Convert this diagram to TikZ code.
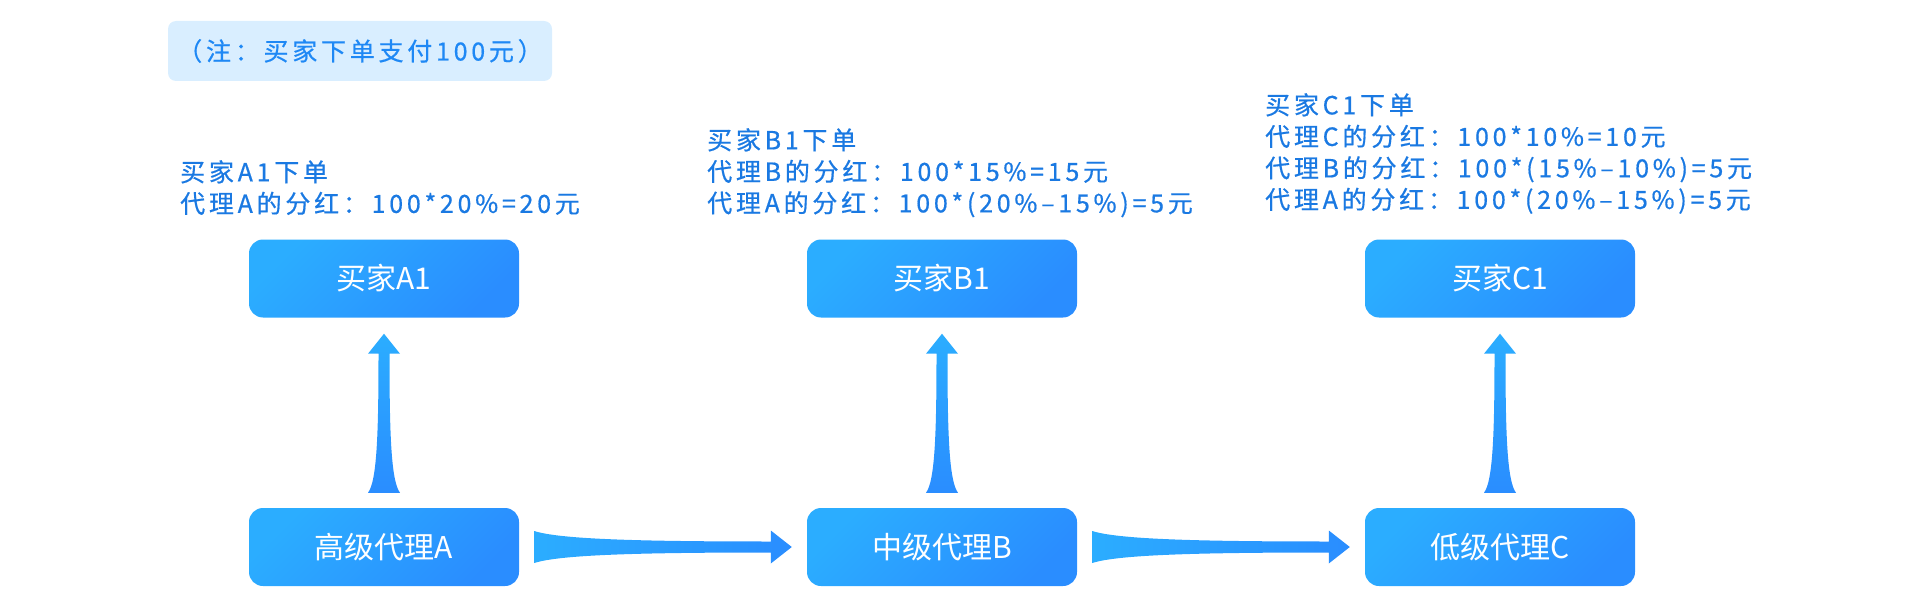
\documentclass[tikz,border=0pt]{standalone}
\usepackage{fontspec}
\usepackage{tikz}
\usetikzlibrary{shapes,arrows,positioning,calc}
\newfontfamily\cjk{Noto Sans CJK SC}
\newfontfamily\cjkwide[LetterSpace=15,FakeBold=0.6]{Noto Sans CJK SC}
\definecolor{lightblue}{HTML}{2BADFF}
\definecolor{deepblue}{HTML}{2A8DFF}
\definecolor{textblue}{HTML}{1A79E2}
\definecolor{noteblue}{HTML}{1E88F5}
\definecolor{notefill}{HTML}{D9EEFF}

\begin{document}
\begin{tikzpicture}[x=1pt,y=1pt,node distance=558pt,
  box node/.style={rectangle,rounded corners=14pt,minimum width=270pt,minimum height=78pt,
    top color=lightblue,bottom color=deepblue,shading angle=45,text=white,
    font=\cjk\fontsize{30}{30}\selectfont},
  info node/.style={anchor=north west,inner sep=0pt,align=left,text=textblue,
    font=\cjkwide\fontsize{25}{31.5}\selectfont},
  note node/.style={rectangle,rounded corners=8pt,fill=notefill,minimum width=384pt,
    minimum height=60pt,text=noteblue,font=\cjkwide\fontsize{25}{25}\selectfont},
  up flow/.style={top color=lightblue,bottom color=deepblue},
  right flow/.style={left color=lightblue,right color=deepblue}]

  \useasboundingbox (0,0) rectangle (1920,-615);

  \node[note node] (0) at (360,-51) {（注：买家下单支付100元）};

  % agents and their buyers
  \node[box node] (1) at (384,-547) {高级代理A};
  \node[box node] (2) [right of=1] {中级代理B};
  \node[box node] (3) [right of=2] {低级代理C};
  \node[box node] (4) [node distance=268.5pt,above of=1] {买家A1};
  \node[box node] (5) [node distance=268.5pt,above of=2] {买家B1};
  \node[box node] (6) [node distance=268.5pt,above of=3] {买家C1};

  \node[info node] (7) at (180,-160) {买家A1下单\\代理A的分红：100*20\%=20元};
  \node[info node] (8) at (707,-128) {买家B1下单\\代理B的分红：100*15\%=15元\\
    代理A的分红：100*(20\%–15\%)=5元};
  \node[info node] (9) at (1265,-93) {买家C1下单\\代理C的分红：100*10\%=10元\\
    代理B的分红：100*(15\%–10\%)=5元\\代理A的分红：100*(20\%–15\%)=5元};

  % arrows up to the buyers
  \foreach \i/\j in {1/4,2/5,3/6}
    \path[up flow] let \p1=($(\i.north)+(0,15)$), \p2=($(\j.south)-(0,16)$) in
      (\x1-16pt,\y1) .. controls (\x1-7pt,\y1+12pt) and (\x1-5.5pt,\y1+60pt) .. (\x1-5.5pt,\y2-20pt)
      -- (\x1-16pt,\y2-20pt) -- (\x1,\y2) -- (\x1+16pt,\y2-20pt) -- (\x1+5.5pt,\y2-20pt)
      .. controls (\x1+5.5pt,\y1+60pt) and (\x1+7pt,\y1+12pt) .. (\x1+16pt,\y1) -- cycle;

  % arrows between the agents
  \foreach \i/\j in {1/2,2/3}
    \path[right flow] let \p1=($(\i.east)+(15,0)$), \p2=($(\j.west)-(15,0)$) in
      (\x1,\y1+16pt) .. controls (\x1+25pt,\y1+8pt) and (\x1+100pt,\y1+5.5pt) .. (\x2-21pt,\y1+5.5pt)
      -- (\x2-21pt,\y1+16.5pt) -- (\x2,\y1) -- (\x2-21pt,\y1-16.5pt) -- (\x2-21pt,\y1-5.5pt)
      .. controls (\x1+100pt,\y1-5.5pt) and (\x1+25pt,\y1-8pt) .. (\x1,\y1-16pt) -- cycle;
\end{tikzpicture}
\end{document}
